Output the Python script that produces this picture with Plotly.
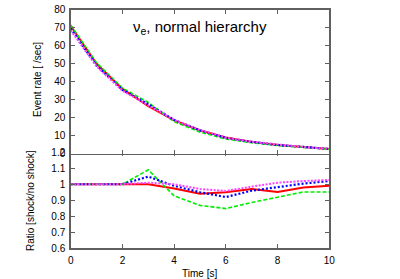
import plotly.graph_objects as go

time_s = [0, 1, 2, 3, 4, 5, 6, 7, 8, 9, 10]

rate_red = [71, 50, 36, 26.5, 18.5, 13.0, 9.0, 6.6, 4.8, 3.6, 2.6]
rate_green = [71.5, 50.5, 36.5, 28.5, 17.8, 12.0, 8.2, 6.1, 4.6, 3.5, 2.5]
rate_blue = [69.5, 49, 35.5, 27.5, 18.8, 13.0, 8.8, 6.6, 4.9, 3.7, 2.7]
rate_magenta = [68.5, 48.5, 35, 27, 18.8, 13.2, 9.0, 6.7, 5.0, 3.7, 2.7]

ratio_red = [1, 1, 1, 1, 0.973, 0.94, 0.95, 0.97, 0.952, 0.98, 0.99]
ratio_green = [1, 1, 1, 1.09, 0.927, 0.868, 0.848, 0.886, 0.917, 0.952, 0.952]
ratio_blue = [1, 1, 1, 1.048, 0.99, 0.95, 0.92, 0.96, 0.983, 1.004, 1.02]
ratio_magenta = [1, 1, 1, 1.01, 1.0, 0.97, 0.958, 0.985, 1.01, 1.02, 1.027]

rate_ticks = [0, 10, 20, 30, 40, 50, 60, 70, 80]
ratio_ticks = [0.6, 0.7, 0.8, 0.9, 1.0, 1.1, 1.2]
ratio_tick_text = ["0.6", "0.7", "0.8", "0.9", "1", "1.1", "1.2"]
time_ticks = [0, 2, 4, 6, 8, 10]

styles = [
    ("red", "#ff0000", "solid", 2.0, rate_red, ratio_red),
    ("green", "#00ee00", "4px,2px", 1.6, rate_green, ratio_green),
    ("blue", "#0000ff", "2px,2px", 2.2, rate_blue, ratio_blue),
    ("magenta", "#ff44ff", "2px,1.5px", 2.0, rate_magenta, ratio_magenta),
]

fig = go.Figure()
for name, col, dash, w, rate, ratio in styles:
    fig.add_trace(go.Scatter(x=time_s, y=rate, mode="lines", name=name,
                             line=dict(color=col, dash=dash, width=w),
                             xaxis="x2", yaxis="y2", showlegend=False, hoverinfo="skip"))
    fig.add_trace(go.Scatter(x=time_s, y=ratio, mode="lines", name=name,
                             line=dict(color=col, dash=dash, width=w),
                             xaxis="x", yaxis="y", showlegend=False, hoverinfo="skip"))

frame = "#606060"
LW = 1.5
fam = "Liberation Sans, Arial, sans-serif"
font = dict(family=fam, size=10, color="black")
common_ax = dict(showline=True, linewidth=LW, linecolor=frame, mirror="ticks",
                 ticks="inside", ticklen=4, tickcolor=frame, tickwidth=1,
                 showgrid=False, zeroline=False, tickfont=font, automargin=False,
                 fixedrange=True)

W, H = 400, 279


def px(x):
    return x / W


def py(y):
    return (H - y) / H


ann_common = dict(xref="paper", yref="paper", showarrow=False,
                  xanchor="center", yanchor="middle")

fig.update_layout(
    width=W, height=H,
    margin=dict(l=0, r=0, t=0, b=0, pad=0, autoexpand=False),
    paper_bgcolor="white", plot_bgcolor="white",
    font=font, hovermode=False,
    xaxis=dict(domain=[px(70.75), px(329.25)], anchor="y", range=[0, 10], tickvals=time_ticks,
               ticklabelstandoff=2, **common_ax),
    yaxis=dict(domain=[py(248.25), py(153 - LW / 2)], anchor="x", range=[0.6, 1.2],
               tickvals=ratio_ticks, ticktext=ratio_tick_text, ticklabelstandoff=2, **common_ax),
    xaxis2=dict(domain=[px(70.75), px(329.25)], anchor="y2", range=[0, 10], tickvals=time_ticks,
                showticklabels=False, **common_ax),
    yaxis2=dict(domain=[py(153 + LW / 2), py(9.75)], anchor="x2", range=[0, 80],
                tickvals=rate_ticks, ticklabelstandoff=2, **common_ax),
    annotations=[
        dict(text="ν<sub>e</sub>, normal hierarchy", x=px(200), y=py(27),
             font=dict(family=fam, size=15, color="black"), **ann_common),
        dict(text="Event rate [ /sec]", x=px(37), y=py(80), textangle=-90,
             font=font, **ann_common),
        dict(text="Ratio [shock/no shock]", x=px(30), y=py(201), textangle=-90,
             font=font, **ann_common),
        dict(text="Time [s]", x=px(199), y=py(273), font=font, **ann_common),
    ],
)

fig.write_html("out.html", config={"displayModeBar": False, "staticPlot": True},
               post_script="document.body.style.margin='0';document.body.style.padding='0';")
